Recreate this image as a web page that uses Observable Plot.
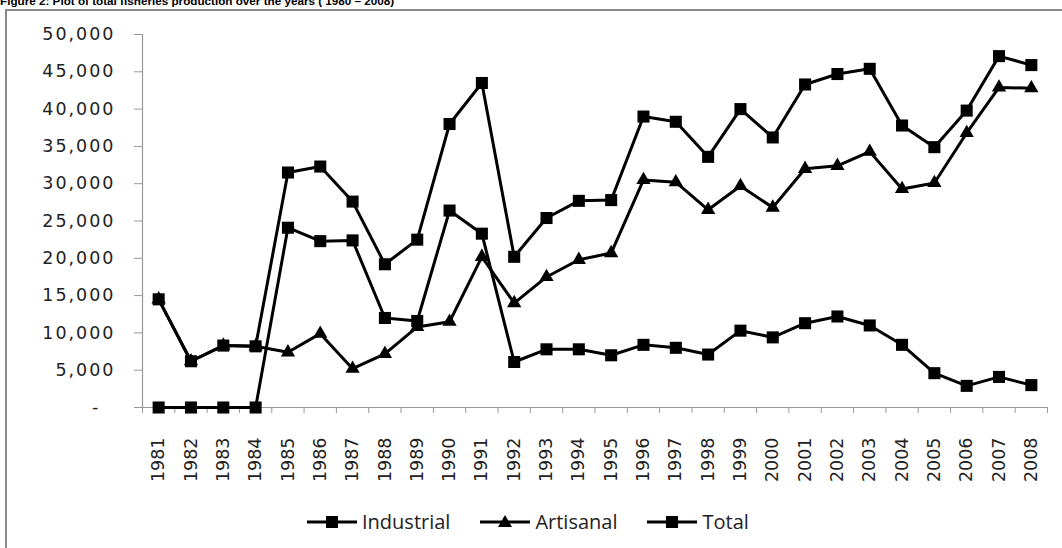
<!DOCTYPE html>
<html><head><meta charset="utf-8">
<script src="https://cdn.jsdelivr.net/npm/d3@7"></script>
<script src="https://cdn.jsdelivr.net/npm/@observablehq/plot@0.6"></script>
<style>
body{margin:0;background:#fff;overflow:hidden}
#wrap{position:relative;width:1062px;height:548px;overflow:hidden;background:#fff}
#frame{position:absolute;left:5px;top:9px;width:2000px;height:2000px;border-left:2px solid #8c8c8c;border-top:2px solid #8c8c8c}
#title{position:absolute;left:0;top:-6px;font:bold 11.7px "Liberation Sans",Arial,sans-serif;white-space:nowrap;color:#000}
#chart{position:absolute;left:0;top:0}
#legend{position:absolute;left:307px;top:508px;display:flex;align-items:center;gap:30px;font:20px "Open Sans",sans-serif;color:#222}
#legend .item{display:flex;align-items:center}
#legend svg{margin-right:5px}
g[aria-label="y-axis tick label"] text{letter-spacing:2px}
</style>
</head><body>
<div id="wrap">
  <div id="frame"></div>
  <div id="title">Figure 2: Plot of total fisheries production over the years ( 1980 – 2008)</div>
  <div id="chart"></div>
  <div id="legend"></div>
</div>
<script>
const years = [1981,1982,1983,1984,1985,1986,1987,1988,1989,1990,1991,1992,1993,1994,1995,1996,1997,1998,1999,2000,2001,2002,2003,2004,2005,2006,2007,2008];
const industrial = [0,0,0,0,24100,22300,22400,12000,11600,26400,23300,6100,7800,7800,7000,8400,8000,7100,10300,9400,11300,12200,11000,8400,4600,2900,4100,3000];
const artisanal = [14500,6200,8300,8200,7400,9900,5200,7200,10800,11500,20200,14000,17500,19800,20700,30500,30200,26500,29700,26800,32000,32400,34300,29300,30100,36800,42900,42800];
const total = [14500,6200,8300,8200,31500,32300,27600,19200,22500,38000,43500,20200,25400,27700,27800,39000,38300,33600,40000,36200,43300,44700,45400,37800,34900,39800,47100,45900];
const seriesNames = ["Industrial","Artisanal","Total"];
const yTicks = [0,5000,10000,15000,20000,25000,30000,35000,40000,45000,50000];

const seriesValues = [industrial, artisanal, total];
const symbols = ["square","triangle","square"];
const radii = [6.8, 5.3, 6.8];
const data = seriesNames.map((name, i) => years.map((yr, j) => ({series: name, year: yr, value: seriesValues[i][j]})));
const boundaries = years.map(y => y - 0.5).concat([years[years.length - 1] + 0.5]);

const marks = [
  Plot.ruleY([0], {stroke: "#999", strokeWidth: 1.2}),
  Plot.ruleX([boundaries[0]], {y1: 0, y2: yTicks[yTicks.length-1], stroke: "#999", strokeWidth: 1.2}),
  Plot.axisY({ticks: yTicks, tickSize: 8, tickPadding: 19, stroke: "#999", fill: "#222", label: null,
    tickFormat: d => d === 0 ? "-\u00a0\u00a0" : d3.format(",")(d)}),
  Plot.axisX({ticks: boundaries, tickSize: 6, tickFormat: () => "", stroke: "#999", label: null}),
  Plot.axisX({ticks: years, tickSize: 0, tickPadding: 30, tickRotate: -90, fill: "#222", label: null, tickFormat: d => String(d)})
];
data.forEach((d, i) => {
  marks.push(Plot.line(d, {x: "year", y: "value", stroke: "#000", strokeWidth: 3, strokeLinejoin: "round"}));
  marks.push(Plot.dot(d, {x: "year", y: "value", symbol: symbols[i], r: radii[i], fill: "#000", stroke: "none"}));
});

const chart = Plot.plot({
  width: 1062, height: 548,
  marginLeft: 142, marginRight: 15, marginTop: 34, marginBottom: 141,
  x: {type: "linear", domain: [boundaries[0], boundaries[boundaries.length-1]], axis: null, label: null},
  y: {domain: [0, 50000], axis: null, label: null},
  style: {fontFamily: "DejaVu Sans", fontSize: "17.5px", background: "transparent", color: "#222"},
  marks
});
document.getElementById("chart").appendChild(chart);

// legend
const leg = document.getElementById("legend");
seriesNames.forEach((name, i) => {
  const item = document.createElement("div");
  item.className = "item";
  const sym = symbols[i] === "square"
    ? '<rect x="19" y="4" width="12" height="12" fill="#000"/>'
    : '<path d="M25,3 L32,15 L18,15 Z" fill="#000"/>';
  item.innerHTML = '<svg width="50" height="20"><line x1="0" y1="10" x2="50" y2="10" stroke="#000" stroke-width="3"/>' + sym + '</svg><span>' + name + '</span>';
  leg.appendChild(item);
});
</script>
</body></html>
